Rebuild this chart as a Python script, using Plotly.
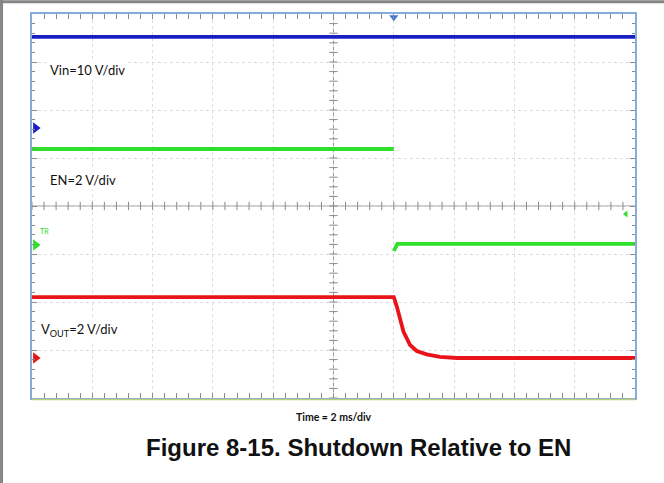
import numpy as np
import plotly.graph_objects as go

# ---------------- data (read from the scope capture) ----------------
# time in ms, EN falling edge at t = 0; screen spans 10 div x 2 ms/div
time_range = [-12, 8]
time_div = 2.0

# Vin (10 V/div)
vin_t = [-12, 8]
vin_v = [19.0, 19.0]

# EN (2 V/div)
en_t = [-12, 0.0, None, 0.0, 0.12, 8]
en_v = [4.0, 4.0, None, -0.25, 0.05, 0.05]

# VOUT (2 V/div)
vout_t = [-12, 0.0, 0.10, 0.21, 0.32, 0.54, 0.76, 1.09, 1.53, 2.09, 8]
vout_v = [2.54, 2.54, 2.14, 1.58, 1.10, 0.54, 0.29, 0.15, 0.05, 0.0, 0.0]

# channel vertical ranges (volts) -> 8 divisions on screen
vin_range = [-56.25, 23.75]
en_range = [-6.375, 9.625]
vout_range = [-1.667, 14.333]

trig_level_t = 7.7
trig_level_v = 1.29

labels = ["Vin=10 V/div", "EN=2 V/div", "V<sub>OUT</sub>=2 V/div"]
xlabel = "Time = 2 ms/div"
caption = "Figure 8-15. Shutdown Relative to EN"

BLUE = "#1a1fc4"
GREEN = "#2ee02a"
RED = "#e8141a"
FRAME = "#86acdc"
GRID = "#dcdcdc"
TICK = "#8a8a8a"

fig = go.Figure()

# center crosshair ticks
xt = np.arange(time_range[0], time_range[1] + 1e-9, time_div / 5)
yt = np.arange(-4, 4 + 1e-9, 0.2)
fig.add_trace(go.Scatter(x=xt, y=[0] * len(xt), mode="markers", yaxis="y",
                         marker=dict(symbol="line-ns-open", size=6, color=TICK,
                                     line=dict(color=TICK, width=1)),
                         hoverinfo="skip", showlegend=False))
fig.add_trace(go.Scatter(x=[-2] * len(yt), y=yt, mode="markers", yaxis="y",
                         marker=dict(symbol="line-ew-open", size=6, color=TICK,
                                     line=dict(color=TICK, width=1)),
                         hoverinfo="skip", showlegend=False))

# traces
fig.add_trace(go.Scatter(x=vin_t, y=vin_v, mode="lines", yaxis="y2",
                         line=dict(color=BLUE, width=3.8), showlegend=False))
fig.add_trace(go.Scatter(x=en_t, y=en_v, mode="lines", yaxis="y3", connectgaps=False,
                         line=dict(color=GREEN, width=3.8), showlegend=False))
fig.add_trace(go.Scatter(x=vout_t, y=vout_v, mode="lines", yaxis="y4",
                         line=dict(color=RED, width=3.8), showlegend=False))

# ground reference markers
for ax, col in (("y2", BLUE), ("y3", GREEN), ("y4", RED)):
    fig.add_trace(go.Scatter(x=[time_range[0] + 0.12], y=[0], mode="markers", yaxis=ax,
                             marker=dict(symbol="triangle-right", size=10, color=col),
                             cliponaxis=False, showlegend=False, hoverinfo="skip"))

# trigger position and level markers
fig.add_trace(go.Scatter(x=[0], y=[3.93], mode="markers", yaxis="y",
                         marker=dict(symbol="triangle-down", size=8, color="#3f78d2"),
                         cliponaxis=False, showlegend=False, hoverinfo="skip"))
fig.add_trace(go.Scatter(x=[trig_level_t], y=[trig_level_v], mode="markers", yaxis="y3",
                         marker=dict(symbol="triangle-left", size=6, color=GREEN),
                         showlegend=False, hoverinfo="skip"))

axis_common = dict(showticklabels=False, showgrid=True, gridcolor=GRID, griddash="dot",
                   gridwidth=1, zeroline=False, showline=True, linecolor=FRAME, linewidth=2,
                   mirror="allticks", ticks="inside", ticklen=5, tickcolor=TICK,
                   fixedrange=True)

fig.update_layout(
    width=664, height=483,
    margin=dict(l=32, r=29, t=14, b=85),
    paper_bgcolor="white", plot_bgcolor="white",
    showlegend=False,
    xaxis=dict(range=time_range, tick0=time_range[0], dtick=time_div,
               minor=dict(ticks="inside", dtick=time_div / 5, ticklen=3, tickcolor=TICK, showgrid=False),
               **axis_common),
    yaxis=dict(range=[-4, 4], tick0=-4, dtick=1,
               minor=dict(ticks="inside", dtick=0.2, ticklen=3, tickcolor=TICK, showgrid=False),
               **axis_common),
    yaxis2=dict(range=vin_range, overlaying="y", visible=False, fixedrange=True),
    yaxis3=dict(range=en_range, overlaying="y", visible=False, fixedrange=True),
    yaxis4=dict(range=vout_range, overlaying="y", visible=False, fixedrange=True),
    shapes=[
        dict(type="line", xref="x", yref="paper", x0=-2, x1=-2, y0=0, y1=1,
             line=dict(color="#9a9a9a", width=1), layer="below"),
        dict(type="line", xref="paper", yref="y", x0=0, x1=1, y0=0, y1=0,
             line=dict(color="#9a9a9a", width=1), layer="below"),
        # yellowish line under the screen
        dict(type="line", xref="paper", yref="paper", x0=0, x1=1, y0=-0.004, y1=-0.004,
             line=dict(color="#bccb7c", width=1.5)),
        # page border (top and left)
        dict(type="line", xref="paper", yref="paper", x0=-0.06, x1=1.06, y0=1.032, y1=1.032,
             line=dict(color="#858585", width=3)),
        dict(type="line", xref="paper", yref="paper", x0=-0.0505, x1=-0.0505, y0=-0.25, y1=1.04,
             line=dict(color="#858585", width=3)),
    ],
    annotations=[
        dict(text=labels[0], xref="paper", yref="paper", x=0.026, y=0.854,
             xanchor="left", yanchor="middle", showarrow=False, bgcolor="white",
             font=dict(family="Lato", size=13, color="#111")),
        dict(text=labels[1], xref="paper", yref="paper", x=0.026, y=0.568,
             xanchor="left", yanchor="middle", showarrow=False, bgcolor="white",
             font=dict(family="Lato", size=13, color="#111")),
        dict(text=labels[2], xref="paper", yref="paper", x=0.012, y=0.177,
             xanchor="left", yanchor="middle", showarrow=False, bgcolor="white",
             font=dict(family="Lato", size=13, color="#111")),
        dict(text="TR", xref="paper", yref="paper", x=0.01, y=0.435,
             xanchor="left", yanchor="middle", showarrow=False,
             font=dict(family="Lato", size=7, color=GREEN)),
        dict(text="<b>" + xlabel + "</b>", xref="paper", yref="paper", x=0.5, y=-0.049,
             xanchor="center", yanchor="middle", showarrow=False,
             font=dict(family="Lato", size=10.5, color="#111")),
        dict(text="<b>" + caption + "</b>", xref="paper", yref="paper", x=0.542, y=-0.13,
             xanchor="center", yanchor="middle", showarrow=False,
             font=dict(family="Liberation Sans", size=24, color="#111")),
    ],
)

fig.write_html("out.html", config={"displayModeBar": False},
               post_script="document.body.style.margin='0';")
